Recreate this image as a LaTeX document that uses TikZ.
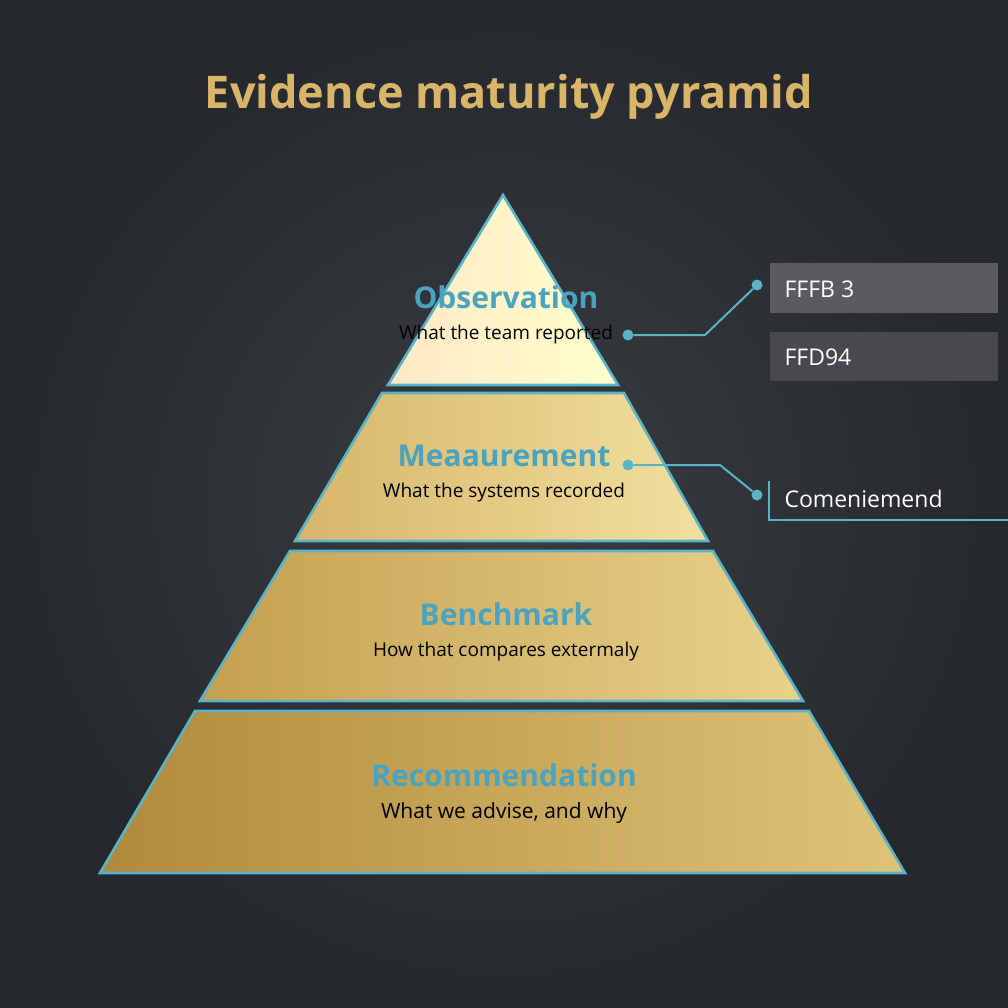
\documentclass[tikz,border=0pt]{standalone}
\usepackage{fontspec}
\setmainfont{Open Sans}
\usepackage{tikz}
\usetikzlibrary{positioning}
\definecolor{bgDark}{HTML}{25282C}
\definecolor{bgLight}{HTML}{3A3D42}
\definecolor{edgeCyan}{HTML}{5AB4C8}
\definecolor{headCyan}{HTML}{4AA3C0}
\definecolor{titleGold}{HTML}{D9B56A}
\definecolor{boxA}{HTML}{5A5B5F}
\definecolor{boxB}{HTML}{48494D}
\tikzset{
  tier/.style={draw=edgeCyan,line width=2.6pt,line join=miter},
  head/.style={text=headCyan,font=\bfseries\fontsize{30}{32}\selectfont},
  sub/.style={text=black,font=\fontsize{19}{21}\selectfont},
  link/.style={draw=edgeCyan,line width=2pt},
  dot/.style={circle,fill=edgeCyan,inner sep=0pt,minimum size=11pt},
  tag/.style={anchor=west,text=white,font=\fontsize{23}{25}\selectfont},
}
\begin{document}
\begin{tikzpicture}[x=1pt,y=-1pt]
  \useasboundingbox (0,0) rectangle (1008,1008);
  \shade[inner color=bgLight,outer color=bgDark] (0,0) rectangle (1008,1008);

  \node[text=titleGold,font=\bfseries\fontsize{45}{50}\selectfont] (title) at (509,97) {Evidence maturity pyramid};

  % tiers
  \shade[tier,left color=white!60!yellow!40!orange!30,right color=yellow!20!white] (503,195) -- (618,385) -- (388,385) -- cycle;
  \shade[tier,left color={rgb,255:red,214;green,182;blue,105},right color={rgb,255:red,242;green,224;blue,160}] (382,393) -- (624,393) -- (708,541) -- (295,541) -- cycle;
  \shade[tier,left color={rgb,255:red,196;green,160;blue,80},right color={rgb,255:red,232;green,210;blue,140}] (290,551) -- (713,551) -- (803,701) -- (200,701) -- cycle;
  \shade[tier,left color={rgb,255:red,176;green,138;blue,60},right color={rgb,255:red,222;green,196;blue,120}] (195,711) -- (809,711) -- (905,873) -- (100,873) -- cycle;

  \node[head] (obs) at (506,297) {Observation};
  \node[sub] (obsSub) at (506,335) {What the team reported};
  \node[head] (mea) at (504,456) {Meaaurement};
  \node[sub] (meaSub) at (504,493) {What the systems recorded};
  \node[head] (ben) at (506,614) {Benchmark};
  \node[sub] (benSub) at (506,652) {How that compares extermaly};
  \node[head] (rec) at (504,775) {Recommendation};
  \node[sub,font=\fontsize{21}{23}\selectfont] (recSub) at (504,813) {What we advise, and why};

  % callouts
  \fill[boxA] (770,263) rectangle (998,313);
  \fill[boxB] (770,332) rectangle (998,381);
  \node[tag] (tagA) at (781,289) {FFFB 3};
  \node[tag] (tagB) at (781,357) {FFD94};
  \node[tag] (tagC) at (781,499) {Comeniemend};
  \draw[link] (769,481) -- (769,520) -- (1008,520);

  \node[dot] (d1) at (628,335) {};
  \node[dot] (d2) at (757,285) {};
  \node[dot] (d3) at (628,465) {};
  \node[dot] (d4) at (757,495) {};
  \coordinate (k1) at (705,335);
  \coordinate (k2) at (720,465);
  \draw[link] (d1) -- (k1) -- (d2);
  \draw[link] (d3) -- (k2) -- (d4);
\end{tikzpicture}
\end{document}
